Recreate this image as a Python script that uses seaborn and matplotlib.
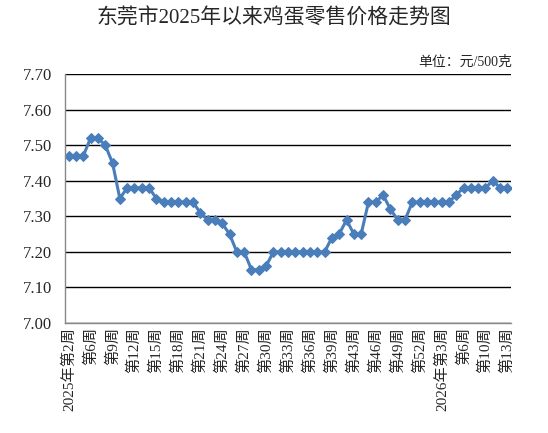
import matplotlib
matplotlib.use("Agg")
import matplotlib.pyplot as plt
import seaborn as sns
import pandas as pd

# weekly egg retail price, yuan per 500g (some holiday weeks have no data)
weeks_2025 = [2, 3, 4] + list(range(6, 40)) + list(range(41, 53))
weeks_2026 = list(range(1, 8)) + list(range(9, 14))
week_names = ([f"2025年第{w}周" for w in weeks_2025] +
              [f"2026年第{w}周" for w in weeks_2026])

prices = [7.47, 7.47, 7.47, 7.52, 7.52, 7.50, 7.45, 7.35,
          7.38, 7.38, 7.38, 7.38, 7.35,
          7.34, 7.34, 7.34, 7.34, 7.34, 7.31, 7.29, 7.29, 7.28, 7.25,
          7.20, 7.20, 7.15, 7.15, 7.16,
          7.20, 7.20, 7.20, 7.20, 7.20, 7.20, 7.20, 7.20,
          7.24, 7.25, 7.29, 7.25, 7.25, 7.34, 7.34, 7.36, 7.32, 7.29, 7.29,
          7.34, 7.34, 7.34, 7.34, 7.34, 7.34, 7.36,
          7.38, 7.38, 7.38, 7.38, 7.40, 7.38, 7.38]

tick_labels = ["2025年第2周", "第6周", "第9周", "第12周", "第15周", "第18周",
               "第21周", "第24周", "第27周", "第30周", "第33周", "第36周",
               "第39周", "第43周", "第46周", "第49周", "第52周",
               "2026年第3周", "第6周", "第10周", "第13周"]
y_ticks = [7.00, 7.10, 7.20, 7.30, 7.40, 7.50, 7.60, 7.70]

df = pd.DataFrame({"week": week_names, "price": prices})
df["pos"] = range(len(df))

sns.set_style("white")
plt.rcParams["font.family"] = ["Liberation Serif", "Noto Sans CJK SC"]

fig = plt.figure(figsize=(5.48, 4.33), dpi=100)
ax = fig.add_axes([0.1186, 0.254, 0.814, 0.575])

sns.lineplot(data=df, x="pos", y="price", ax=ax, color="#4a7ebb",
             linewidth=2.2, marker="D", markersize=5.5,
             markeredgecolor="#4a7ebb")

ax.set_xlim(-0.5, len(df) - 0.5)
ax.set_ylim(7.0, 7.7)
ax.set_yticks(y_ticks)
ax.set_yticklabels([f"{v:.2f}" for v in y_ticks], fontsize=12)
ax.set_xticks(df["pos"][::3])
ax.set_xticklabels(tick_labels, rotation=90, fontsize=11, va="top")
ax.tick_params(axis="both", length=0)
ax.tick_params(axis="y", pad=9)
ax.tick_params(axis="x", pad=3)

ax.grid(axis="y", color="black", linewidth=1)
ax.set_axisbelow(True)
for side in ["top", "right"]:
    ax.spines[side].set_visible(False)
for side in ["left", "bottom"]:
    ax.spines[side].set_color("#888888")
    ax.spines[side].set_linewidth(1)

ax.set_xlabel("")
ax.set_ylabel("")

fig.text(0.5, 0.956, "东莞市2025年以来鸡蛋零售价格走势图", ha="center",
         va="center", fontsize=15)
fig.text(0.935, 0.857, "单位：元/500克", ha="right", va="center", fontsize=10)

fig.savefig("out.png", dpi=100)
